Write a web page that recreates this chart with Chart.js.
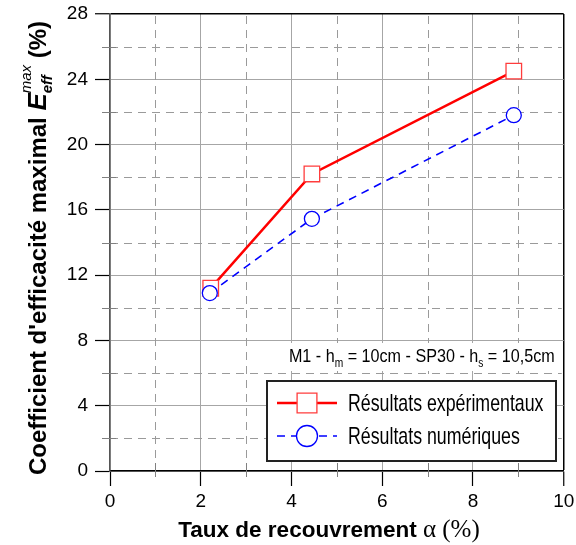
<!DOCTYPE html>
<html>
<head>
<meta charset="utf-8">
<script src="https://cdn.jsdelivr.net/npm/chart.js@4.4.0/dist/chart.umd.min.js"></script>
<style>
  html, body { margin: 0; padding: 0; background: #fff; }
  #wrap { width: 576px; height: 545px; }
</style>
</head>
<body>
<div id="wrap"><canvas id="chart"></canvas></div>
<script>
// Data
const tauxExp = [2.22, 4.45, 8.9];
const coefExp = [11.2, 18.2, 24.5];
const tauxNum = [2.2, 4.45, 8.9];
const coefNum = [10.9, 15.45, 21.8];

const xTicks = [0, 2, 4, 6, 8, 10];
const yTicks = [0, 4, 8, 12, 16, 20, 24, 28];
const xMinor = [1, 3, 5, 7, 9];
const yMinor = [2, 6, 10, 14, 18, 22, 26];

const labelExp = 'Résultats expérimentaux';
const labelNum = 'Résultats numériques';

const SANS = '"Liberation Sans", Arial, Helvetica, sans-serif';
const SERIF = '"Liberation Serif", "Times New Roman", serif';

const toPoints = (xs, ys) => xs.map((x, i) => ({ x: x, y: ys[i] }));

// draw a run of text pieces one after another; "same" pieces start where the previous one did
function drawRuns(ctx, runs, x, y, align, sx) {
    sx = sx || 1;
    let cur = 0, lastStart = 0, maxEnd = 0;
    runs.forEach(r => {
        ctx.font = r.font;
        const w = ctx.measureText(r.text).width;
        const start = r.same ? lastStart : cur;
        r._x = start;
        lastStart = start;
        cur = r.same ? Math.max(cur, start + w) : start + w;
        maxEnd = Math.max(maxEnd, cur);
    });
    const total = maxEnd * sx;
    const x0 = align === 'center' ? x - total / 2 : align === 'right' ? x - total : x;
    ctx.save();
    ctx.translate(x0, y);
    ctx.scale(sx, 1);
    ctx.textAlign = 'left';
    ctx.textBaseline = 'alphabetic';
    runs.forEach(r => {
        ctx.font = r.font;
        ctx.fillText(r.text, r._x, r.dy || 0);
    });
    ctx.restore();
    return total;
}

// keep the plot frame where the layout padding puts it
function noLabelPadding(s) {
    s.paddingTop = 0; s.paddingBottom = 0; s.paddingLeft = 0; s.paddingRight = 0;
}

const minorGrid = {
    id: 'minorGrid',
    beforeDatasetsDraw(chart) {
        const { ctx, chartArea: a, scales: { x, y } } = chart;
        ctx.save();
        ctx.lineWidth = 1;
        ctx.strokeStyle = '#9a9a9a';
        ctx.setLineDash([8, 6]);
        xMinor.forEach(v => {
            const px = Math.round(x.getPixelForValue(v)) + 0.5;
            ctx.beginPath(); ctx.moveTo(px, a.top + 2); ctx.lineTo(px, a.bottom); ctx.stroke();
        });
        yMinor.forEach(v => {
            const py = Math.round(y.getPixelForValue(v)) + 0.5;
            ctx.beginPath(); ctx.moveTo(a.left, py); ctx.lineTo(a.right - 2, py); ctx.stroke();
        });
        ctx.setLineDash([]);
        ctx.strokeStyle = '#808080';
        xMinor.forEach(v => {
            const px = Math.round(x.getPixelForValue(v)) + 0.5;
            ctx.beginPath(); ctx.moveTo(px, a.bottom - 8); ctx.lineTo(px, a.bottom + 6); ctx.stroke();
        });
        yMinor.forEach(v => {
            const py = Math.round(y.getPixelForValue(v)) + 0.5;
            ctx.beginPath(); ctx.moveTo(a.left - 8, py); ctx.lineTo(a.left + 6, py); ctx.stroke();
        });
        ctx.restore();
    }
};

const decorations = {
    id: 'decorations',
    afterDraw(chart) {
        const { ctx, chartArea: a } = chart;
        ctx.save();
        ctx.fillStyle = '#000';

        // axis titles
        drawRuns(ctx, [
            { font: 'bold 22.5px ' + SANS, text: 'Taux de recouvrement ' },
            { font: '25px ' + SERIF, text: 'α (%)' }
        ], 329, 537, 'center');

        ctx.save();
        ctx.translate(46, 248);
        ctx.rotate(-Math.PI / 2);
        drawRuns(ctx, [
            { font: 'bold 24px ' + SANS, text: "Coefficient d'efficacité maximal " },
            { font: 'italic bold 26px ' + SANS, text: 'E' },
            { font: 'italic bold 15px ' + SANS, text: 'eff', dy: 6 },
            { font: 'italic 15px ' + SANS, text: 'max', dy: -15, same: true },
            { font: 'bold 24px ' + SANS, text: ' (%)' }
        ], 0, 0, 'center');
        ctx.restore();

        // annotation with white background
        ctx.fillStyle = '#fff';
        ctx.fillRect(a.left + 178, 343, a.right - a.left - 180, 28);
        ctx.fillStyle = '#000';
        drawRuns(ctx, [
            { font: '19px ' + SANS, text: 'M1 - h' },
            { font: '12px ' + SANS, text: 'm', dy: 5 },
            { font: '19px ' + SANS, text: ' = 10cm - SP30 - h' },
            { font: '12px ' + SANS, text: 's', dy: 5 },
            { font: '19px ' + SANS, text: ' = 10,5cm' }
        ], a.right - 9, 362, 'right', 0.85);

        // legend box
        const bx = a.left + 157, by = 381, bw = 289, bh = 80;
        ctx.fillStyle = '#fff';
        ctx.fillRect(bx, by, bw, bh);
        ctx.lineWidth = 2;
        ctx.strokeStyle = '#222';
        ctx.strokeRect(bx, by, bw, bh);

        chart.data.datasets.forEach((ds, i) => {
            const ly = by + 22 + i * 33;
            const lx0 = bx + 10, lx1 = bx + 70, mx = bx + 40;
            ctx.save();
            ctx.strokeStyle = ds.borderColor;
            ctx.lineWidth = ds.borderWidth;
            ctx.setLineDash(ds.borderDash || []);
            ctx.beginPath(); ctx.moveTo(lx0, ly); ctx.lineTo(lx1, ly); ctx.stroke();
            ctx.setLineDash([]);
            ctx.fillStyle = ds.pointBackgroundColor;
            ctx.strokeStyle = ds.pointBorderColor;
            ctx.lineWidth = ds.pointBorderWidth;
            // legend markers are drawn larger than the plot markers
            const r = ds.pointStyle === 'rect' ? 14 : 10.5;
            Chart.helpers.drawPoint(ctx, {
                pointStyle: ds.pointStyle, radius: r, rotation: 0, borderWidth: ds.pointBorderWidth
            }, mx, ly);
            ctx.restore();
            ctx.fillStyle = '#000';
            drawRuns(ctx, [{ font: '24px ' + SANS, text: ds.label }], bx + 81, ly + 8, 'left', 0.74);
        });
        ctx.restore();
    }
};

new Chart(document.getElementById('chart'), {
    type: 'scatter',
    data: {
        datasets: [
            {
                label: labelExp,
                data: toPoints(tauxExp, coefExp),
                showLine: true,
                borderColor: '#ff0000',
                borderWidth: 2.5,
                pointStyle: 'rect',
                pointRadius: 11,
                pointBorderColor: '#ff3c3c',
                pointBackgroundColor: '#ffffff',
                pointBorderWidth: 1.3,
                order: 1
            },
            {
                label: labelNum,
                data: toPoints(tauxNum, coefNum),
                showLine: true,
                borderColor: '#0000ff',
                borderWidth: 1.6,
                borderDash: [8, 6],
                pointStyle: 'circle',
                pointRadius: 7.5,
                pointBorderColor: '#0000ff',
                pointBackgroundColor: '#ffffff',
                pointBorderWidth: 1.3,
                order: 0
            }
        ]
    },
    options: {
        responsive: true,
        maintainAspectRatio: false,
        animation: false,
        layout: { padding: { top: 14, right: 11, left: 0, bottom: 0 } },
        plugins: { legend: { display: false }, tooltip: { enabled: false } },
        scales: {
            x: {
                type: 'linear',
                min: 0,
                max: 10,
                afterBuildTicks: s => { s.ticks = xTicks.map(v => ({ value: v })); },
                afterFit: s => { s.height = 74; noLabelPadding(s); },
                grid: {
                    color: c => c.tick && c.tick.value === 10 ? '#000' : '#a6a6a6',
                    lineWidth: c => c.tick && c.tick.value === 10 ? 1.5 : 1,
                    tickColor: '#000',
                    tickLength: 15,
                    tickWidth: 1.2
                },
                border: { color: '#000', width: 1.5 },
                ticks: { color: '#000', font: { family: SANS, size: 19 }, padding: 4, maxRotation: 0 }
            },
            y: {
                type: 'linear',
                min: 0,
                max: 28,
                afterBuildTicks: s => { s.ticks = yTicks.map(v => ({ value: v })); },
                afterFit: s => { s.width = 110; noLabelPadding(s); },
                grid: {
                    color: c => c.tick && c.tick.value === 28 ? '#000' : '#a6a6a6',
                    lineWidth: c => c.tick && c.tick.value === 28 ? 1.5 : 1,
                    tickColor: '#000',
                    tickLength: 15,
                    tickWidth: 1.2
                },
                border: { color: '#555', width: 1.5 },
                ticks: { color: '#000', font: { family: SANS, size: 19 }, padding: 7 }
            }
        }
    },
    plugins: [minorGrid, decorations]
});
</script>
</body>
</html>
